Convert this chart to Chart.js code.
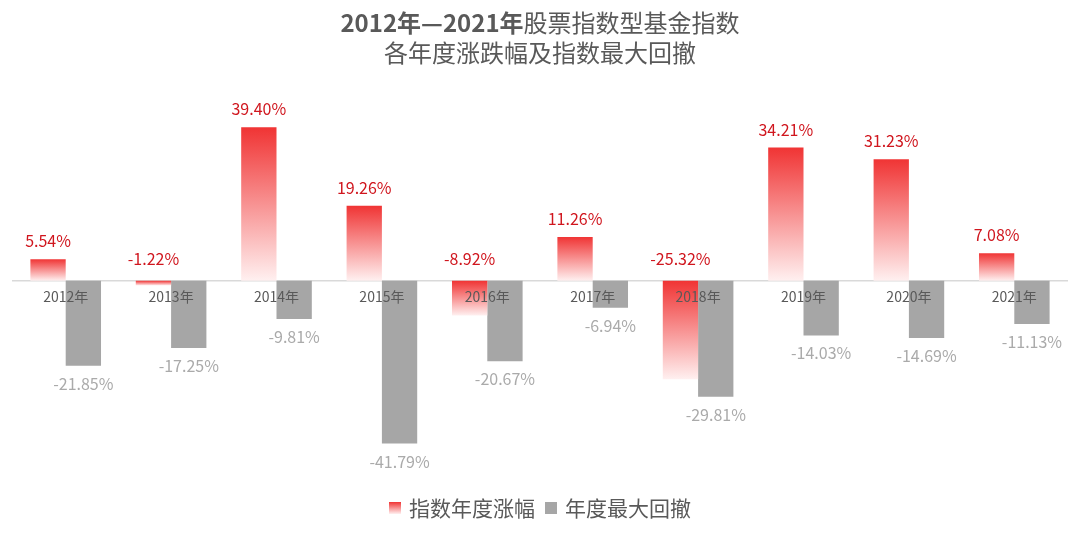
<!DOCTYPE html>
<html>
<head>
<meta charset="utf-8">
<script src="https://cdn.jsdelivr.net/npm/chart.js@4/dist/chart.umd.min.js"></script>
<style>
  html, body { margin: 0; padding: 0; background: #ffffff; }
  #wrap { width: 1080px; height: 539px; position: relative; }
</style>
</head>
<body>
<div id="wrap"><canvas id="c" width="1080" height="539"></canvas></div>
<script>
const categories = ['2012年','2013年','2014年','2015年','2016年','2017年','2018年','2019年','2020年','2021年'];
const annualReturn = [5.54, -1.22, 39.40, 19.26, -8.92, 11.26, -25.32, 34.21, 31.23, 7.08];
const maxDrawdown = [-21.85, -17.25, -9.81, -41.79, -20.67, -6.94, -29.81, -14.03, -14.69, -11.13];
const seriesNames = ['指数年度涨幅', '年度最大回撤'];
const titleBold = '2012年—2021年';
const titleRest = '股票指数型基金指数';
const titleLine2 = '各年度涨跌幅及指数最大回撤';

const FONT = '"Noto Sans CJK SC", "Noto Sans", sans-serif';
const RED_TOP = '#f03434';
const RED_BOT = '#fff0f0';
const GRAY = '#a6a6a6';
const TEXT = '#595959';

function redGradient(ctx) {
  const chart = ctx.chart;
  if (!chart.chartArea || ctx.type !== 'data') return RED_TOP;
  const y = chart.scales.y;
  const y0 = y.getPixelForValue(0);
  const y1 = y.getPixelForValue(ctx.raw);
  const top = Math.min(y0, y1), bot = Math.max(y0, y1);
  if (bot - top < 1) return RED_TOP;
  const g = chart.ctx.createLinearGradient(0, top, 0, bot);
  g.addColorStop(0, RED_TOP);
  g.addColorStop(1, RED_BOT);
  return g;
}

const labelPlugin = {
  id: 'valueLabels',
  afterDatasetsDraw(chart) {
    const c = chart.ctx;
    const y = chart.scales.y;
    const zero = y.getPixelForValue(0);
    c.save();
    c.font = '16px ' + FONT;
    c.textAlign = 'center';
    c.textBaseline = 'middle';
    chart.data.datasets.forEach((ds, di) => {
      const meta = chart.getDatasetMeta(di);
      meta.data.forEach((el, i) => {
        const v = ds.data[i];
        const txt = v.toFixed(2) + '%';
        let ty;
        if (di === 0) {
          c.fillStyle = '#d0161e';
          ty = v >= 0 ? el.y - 18 : zero - 22;
        } else {
          c.fillStyle = '#aaaaaa';
          ty = el.y + 18;
        }
        c.fillText(txt, el.x, ty);
      });
    });
    c.restore();
  }
};

const titleLegendPlugin = {
  id: 'titleLegend',
  afterDraw(chart) {
    const c = chart.ctx;
    c.save();
    c.textBaseline = 'middle';
    c.fillStyle = TEXT;
    // title line 1
    c.font = 'bold 24px ' + FONT;
    const wb = c.measureText(titleBold).width;
    c.font = '24px ' + FONT;
    const wr = c.measureText(titleRest).width;
    let x = 540 - (wb + wr) / 2;
    c.textAlign = 'left';
    c.font = 'bold 24px ' + FONT;
    c.fillText(titleBold, x, 23);
    c.font = '24px ' + FONT;
    c.fillText(titleRest, x + wb, 23);
    c.textAlign = 'center';
    c.fillText(titleLine2, 540, 53);

    // legend
    c.font = '21px ' + FONT;
    c.textAlign = 'left';
    const box = 12, gap = 8, between = 10;
    const w1 = c.measureText(seriesNames[0]).width;
    const w2 = c.measureText(seriesNames[1]).width;
    const total = box + gap + w1 + between + box + gap + w2;
    let lx = 540 - total / 2;
    const ly = 508;
    const g = c.createLinearGradient(0, ly - 6, 0, ly + 6);
    g.addColorStop(0, RED_TOP);
    g.addColorStop(1, RED_BOT);
    c.fillStyle = g;
    c.fillRect(lx, ly - 6, box, box);
    c.fillStyle = TEXT;
    c.fillText(seriesNames[0], lx + box + gap, ly);
    lx += box + gap + w1 + between;
    c.fillStyle = GRAY;
    c.fillRect(lx, ly - 6, box, box);
    c.fillStyle = TEXT;
    c.fillText(seriesNames[1], lx + box + gap, ly);
    c.restore();
  }
};

new Chart(document.getElementById('c'), {
  type: 'bar',
  data: {
    labels: categories,
    datasets: [
      { label: seriesNames[0], data: annualReturn, backgroundColor: redGradient, borderWidth: 0 },
      { label: seriesNames[1], data: maxDrawdown, backgroundColor: GRAY, borderWidth: 0 }
    ]
  },
  options: {
    responsive: false,
    animation: false,
    devicePixelRatio: 1,
    layout: { padding: { left: 13, right: 13, top: 125, bottom: 83 } },
    datasets: { bar: { categoryPercentage: 0.67, barPercentage: 1.0 } },
    plugins: { legend: { display: false }, title: { display: false }, tooltip: { enabled: false } },
    scales: {
      x: {
        position: { y: 0 },
        grid: { display: false, drawTicks: false },
        border: { display: true, color: '#d9d9d9', width: 1.5, z: 0 },
        ticks: { z: 1, color: TEXT, font: { family: FONT, size: 14 }, padding: 8, maxRotation: 0, autoSkip: false }
      },
      y: {
        display: false,
        min: -45,
        max: 40
      }
    }
  },
  plugins: [labelPlugin, titleLegendPlugin]
});
</script>
</body>
</html>
